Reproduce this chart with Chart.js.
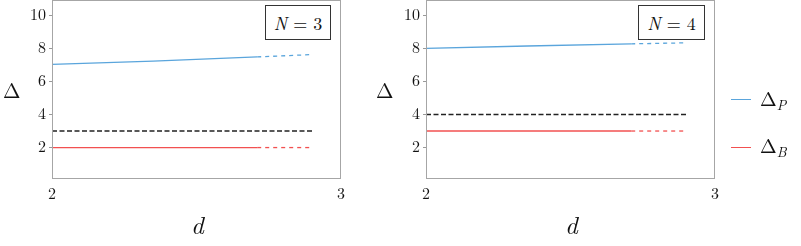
<!DOCTYPE html>
<html>
<head>
<meta charset="utf-8">
<script src="https://cdn.jsdelivr.net/npm/chart.js@4.4.1/dist/chart.umd.min.js"></script>
<style>
  body { margin: 0; background: #fff; }
  #wrap { position: relative; width: 801px; height: 246px; overflow: hidden; font-family: "Latin Modern Roman", "Liberation Serif", serif; color: #111; }
  .panel { position: absolute; top: 0; width: 380px; height: 246px; }
  .lbl { position: absolute; line-height: 1; white-space: nowrap; }
  .nbox { position: absolute; border: 1px solid #333; background: #fff; font-size: 18px; text-align: center; line-height: 33px; }
  .leg { position: absolute; left: 760px; font-size: 20px; line-height: 1; white-space: nowrap; }
  .leg sub { font-style: italic; font-size: 14px; vertical-align: -4px; }
  .sw { position: absolute; left: 731px; width: 20px; height: 1.5px; }
</style>
</head>
<body>
<div id="wrap">
  <div class="panel" style="left:0"><canvas id="c1"></canvas></div>
  <div class="panel" style="left:374px"><canvas id="c2"></canvas></div>

  <div class="nbox" style="left:265px;top:5px;width:64px;height:33px;"><i>N</i> = 3</div>
  <div class="nbox" style="left:638px;top:5px;width:65px;height:33px;"><i>N</i> = 4</div>

  <div class="lbl" style="left:3px;top:79px;font-size:21px;">Δ</div>
  <div class="lbl" style="left:376px;top:79px;font-size:21px;">Δ</div>
  <div class="lbl" style="left:191px;top:211px;font-size:25px;font-style:italic;">d</div>
  <div class="lbl" style="left:565px;top:211px;font-size:25px;font-style:italic;">d</div>

  <div class="sw" style="top:98.5px;background:#5aa5dc"></div>
  <div class="leg" style="top:88px;">Δ<sub>P</sub></div>
  <div class="sw" style="top:146.5px;background:#f25050"></div>
  <div class="leg" style="top:135px;">Δ<sub>B</sub></div>
</div>
<script>
// tick labels
var xTicks = [2, 3];
var yTicks = [2, 4, 6, 8, 10];

// N = 3 panel
var p3Solid = [[2, 7.03], [2.35, 7.23], [2.71, 7.48]];
var p3Dash = [[2.71, 7.48], [2.9, 7.62]];
var line3 = [[2, 3], [2.9, 3]];
var b3Solid = [[2, 2], [2.71, 2]];
var b3Dash = [[2.71, 2], [2.9, 2]];

// N = 4 panel
var p4Solid = [[2, 8.0], [2.35, 8.14], [2.71, 8.27]];
var p4Dash = [[2.71, 8.27], [2.9, 8.33]];
var line4 = [[2, 4], [2.9, 4]];
var b4Solid = [[2, 3], [2.71, 3]];
var b4Dash = [[2.71, 3], [2.9, 3]];

var blue = "#5aa5dc";
var red = "#f25050";
var serif = "'Latin Modern Roman', 'Liberation Serif', serif";

function pts(arr) {
  return arr.map(function(p) { return { x: p[0], y: p[1] }; });
}

var framePlugin = {
  id: "frame",
  afterDraw: function(chart) {
    var a = chart.chartArea;
    var ctx = chart.ctx;
    ctx.save();
    ctx.strokeStyle = "#a6a6a6";
    ctx.lineWidth = 1;
    ctx.strokeRect(a.left + 0.5, a.top + 0.5, a.right - a.left - 1, a.bottom - a.top - 1);
    ctx.restore();
  }
};

function makeChart(id, pSolid, pDash, thr, bSolid, bDash) {
  var ds = function(data, color, dash) {
    return {
      data: pts(data),
      borderColor: color,
      borderWidth: 1.3,
      borderDash: dash,
      pointRadius: 0,
      fill: false,
      tension: 0
    };
  };
  return new Chart(document.getElementById(id), {
    type: "line",
    data: {
      datasets: [
        ds(pSolid, blue, []),
        ds(pDash, blue, [4, 4]),
        ds(thr, "#222", [5, 2.5]),
        ds(bSolid, red, []),
        ds(bDash, red, [4, 4])
      ]
    },
    options: {
      responsive: false,
      animation: false,
      maintainAspectRatio: false,
      layout: { padding: { top: 0, right: 39, left: 0, bottom: 0 } },
      plugins: { legend: { display: false }, tooltip: { enabled: false } },
      scales: {
        x: {
          type: "linear",
          min: 2,
          max: 3,
          afterBuildTicks: function(s) { s.ticks = xTicks.map(function(v) { return { value: v }; }); },
          afterFit: function(s) { s.height = 67; s.paddingLeft = 0; s.paddingRight = 0; },
          grid: { display: false, drawTicks: false },
          border: { display: false },
          ticks: { padding: 6, color: "#111", font: { family: serif, size: 16 }, maxRotation: 0 }
        },
        y: {
          min: 0.1,
          max: 10.92,
          afterBuildTicks: function(s) { s.ticks = yTicks.map(function(v) { return { value: v }; }); },
          afterFit: function(s) { s.width = 52; s.paddingTop = 0; s.paddingBottom = 0; },
          grid: { drawOnChartArea: false, tickLength: 3, color: "#999" },
          border: { display: false },
          ticks: { padding: 3, color: "#111", font: { family: serif, size: 16 } }
        }
      }
    },
    plugins: [framePlugin]
  });
}

document.getElementById("c1").width = 380;
document.getElementById("c1").height = 246;
document.getElementById("c2").width = 380;
document.getElementById("c2").height = 246;

document.fonts.load("16px 'Latin Modern Roman'").then(function() {
  makeChart("c1", p3Solid, p3Dash, line3, b3Solid, b3Dash);
  makeChart("c2", p4Solid, p4Dash, line4, b4Solid, b4Dash);
});
</script>
</body>
</html>
